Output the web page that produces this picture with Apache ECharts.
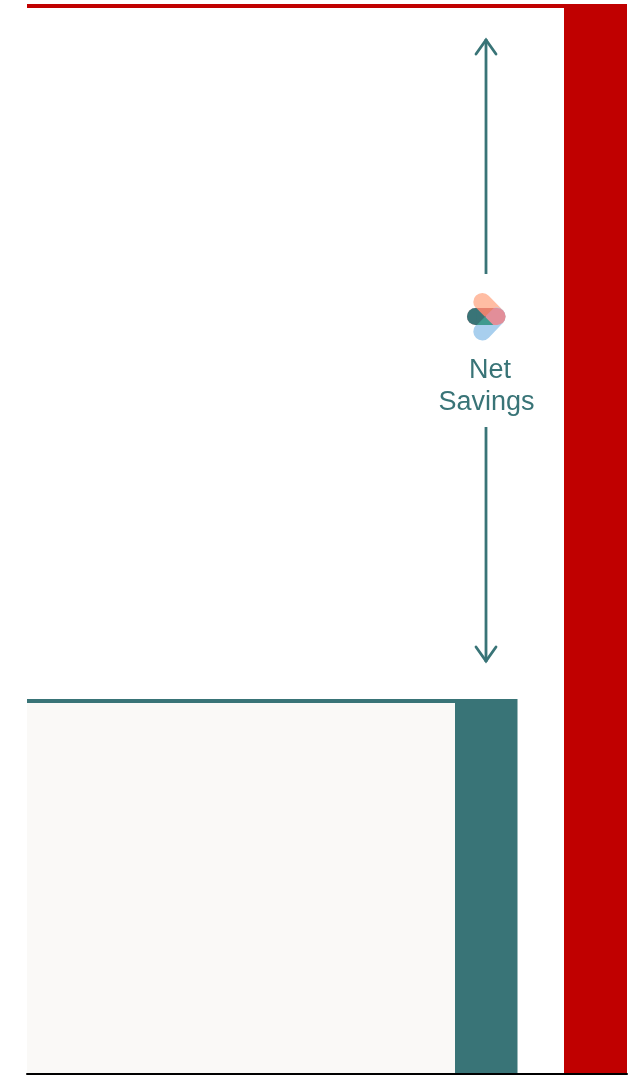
<!DOCTYPE html>
<html>
<head>
<meta charset="utf-8">
<style>
  html, body { margin: 0; padding: 0; background: #fff; }
  #main { width: 639px; height: 1075px; }
</style>
<script src="https://cdn.jsdelivr.net/npm/echarts@6/dist/echarts.min.js"></script>
</head>
<body>
<div id="main"></div>
<script>
// each block is [xStart, xEnd, yBottom, yTop]
var redBlocks = [[0, 537, 1066, 1070], [537, 600, 0, 1070]];
var tealBlocks = [[0, 428, 371, 375], [428, 490.5, 0, 375]];
var creamBlocks = [[0, 428, 0, 371]];

// net savings arrows, [x, yFrom, yTip]
var arrows = [[459, 800, 1035], [459, 647, 412]];

var labelLines = ['Net', 'Savings'];

var RED = '#c00000';
var TEAL = '#397477';
var CREAM = '#faf9f7';

function blockSeries(rows, color) {
  return {
    type: 'custom',
    silent: true,
    z: 1,
    data: rows,
    encode: { x: [0, 1], y: [2, 3] },
    renderItem: function (params, api) {
      var a = api.coord([api.value(0), api.value(3)]);
      var b = api.coord([api.value(1), api.value(2)]);
      return {
        type: 'rect',
        shape: { x: a[0], y: a[1], width: b[0] - a[0], height: b[1] - a[1] },
        style: { fill: color }
      };
    }
  };
}

function arrowSeries(rows) {
  return {
    type: 'custom',
    silent: true,
    z: 2,
    data: rows,
    encode: { x: 0, y: [1, 2] },
    renderItem: function (params, api) {
      var from = api.coord([api.value(0), api.value(1)]);
      var tip = api.coord([api.value(0), api.value(2)]);
      var dir = tip[1] < from[1] ? 1 : -1;
      var lineStyle = { stroke: TEAL, lineWidth: 2.8, fill: null, lineCap: 'round' };
      return {
        type: 'group',
        children: [
          { type: 'line', shape: { x1: from[0], y1: from[1], x2: tip[0], y2: tip[1] }, style: { stroke: TEAL, lineWidth: 2.8 } },
          {
            type: 'polyline',
            shape: { points: [[tip[0] - 10, tip[1] + dir * 15], [tip[0], tip[1] + dir * 1], [tip[0] + 10, tip[1] + dir * 15]] },
            style: lineStyle
          }
        ]
      };
    }
  };
}

function capsule(x1, y1, x2, y2, color, width) {
  return {
    type: 'line',
    silent: true,
    shape: { x1: x1, y1: y1, x2: x2, y2: y2 },
    style: { stroke: color, lineWidth: width, lineCap: 'round' }
  };
}

function piece(points, color) {
  return { type: 'polygon', silent: true, shape: { points: points }, style: { fill: color } };
}

var chart = echarts.init(document.getElementById('main'), null, { renderer: 'canvas' });
chart.setOption({
  animation: false,
  backgroundColor: '#fff',
  grid: { left: 27, right: 12, top: 4, bottom: 1 },
  xAxis: {
    type: 'value', min: 0, max: 600, z: 5,
    axisLine: { show: true, onZero: false, lineStyle: { color: '#000', width: 2 } },
    axisTick: { show: false }, axisLabel: { show: false }, splitLine: { show: false }
  },
  yAxis: {
    type: 'value', min: 0, max: 1070,
    axisLine: { show: false },
    axisTick: { show: false }, axisLabel: { show: false }, splitLine: { show: false }
  },
  series: [
    blockSeries(creamBlocks, CREAM),
    blockSeries(tealBlocks, TEAL),
    blockSeries(redBlocks, RED),
    arrowSeries(arrows)
  ],
  graphic: [
    capsule(482.3, 302, 496.5, 316.5, '#ffbda3', 18),
    capsule(482.3, 331.5, 496.5, 316.5, '#a8cfee', 18),
    capsule(475.5, 316.5, 497, 316.5, '#e28e99', 17),
    capsule(475.5, 316.5, 477, 316.5, TEAL, 17),
    piece([[476.3, 308], [485, 316.7], [476.8, 325]], TEAL),
    piece([[476.3, 308], [493.8, 308], [485, 316.7]], '#e8826e'),
    piece([[476.8, 325], [493.3, 325], [485, 316.7]], '#3f9a8f'),
    {
      type: 'text', silent: true, x: 490, y: 371,
      style: { text: labelLines[0], fill: TEAL, font: '27px "Liberation Sans", Arial, sans-serif', align: 'center', verticalAlign: 'middle' }
    },
    {
      type: 'text', silent: true, x: 486.5, y: 403,
      style: { text: labelLines[1], fill: TEAL, font: '27px "Liberation Sans", Arial, sans-serif', align: 'center', verticalAlign: 'middle' }
    }
  ]
});
</script>
</body>
</html>
